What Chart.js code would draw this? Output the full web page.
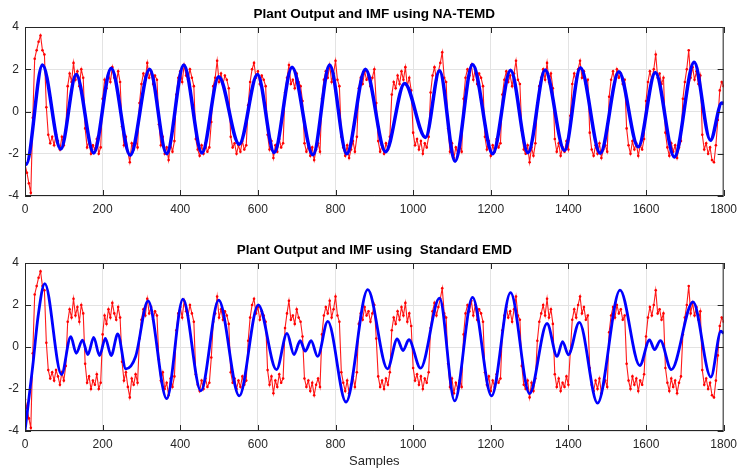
<!DOCTYPE html>
<html>
<head>
<meta charset="utf-8">
<script src="https://cdn.jsdelivr.net/npm/chart.js@4.4.1/dist/chart.umd.min.js"></script>
<style>
body { margin: 0; background: #fff; width: 743px; height: 469px; overflow: hidden; }
.box { position: absolute; left: 0; }
</style>
</head>
<body>
<div class="box" style="top:0px"><canvas id="top" width="743" height="222"></canvas></div>
<div class="box" style="top:236px"><canvas id="bottom" width="743" height="233"></canvas></div>
<script>
// plant output, one value every 5 samples (0..1800)
const sampleStep = 5;
const plantOutput = [
  -2.5,-2.9,-3.4,-3.85,-0.3,2.5,2.9,3.3,3.6,2.9,2.7,0.2,-1.1,-1.5,-1.2,-1.6,-1.1,-1.4,-1.8,-1.2,
  -1.6,-0.9,1.2,1.8,1.4,2.3,1.5,1.9,1.2,2.0,1.6,-0.8,-1.7,-1.4,-2.0,-1.6,-1.8,-1.3,-2.0,-1.7,
  0.6,1.5,1.1,1.8,1.4,2.1,1.6,1.3,1.9,1.4,-0.7,-1.6,-1.2,-1.9,-2.4,-1.5,-1.8,-1.3,-1.7,0.4,
  1.3,1.8,1.5,2.3,1.6,1.9,1.3,1.7,1.5,-0.6,-1.6,-1.2,-2.0,-1.7,-2.3,-1.5,-1.9,-1.4,0.8,1.6,
  1.9,1.4,2.2,1.7,1.5,2.0,1.6,1.2,-1.3,-1.8,-2.1,-1.6,-2.0,-1.5,-1.9,-1.7,-0.5,1.2,1.6,2.4,
  1.4,1.8,1.3,1.7,1.5,1.1,-1.2,-1.7,-1.5,-2.0,-1.6,-1.9,-1.4,-1.8,-1.6,0.3,1.4,2.0,2.3,1.6,
  1.9,1.3,1.7,1.5,1.2,-1.1,-1.8,-1.4,-2.2,-1.6,-1.9,-1.3,-1.7,-1.5,0.9,1.6,2.2,1.3,1.5,1.1,
  1.8,1.4,1.2,0.5,-1.5,-1.9,-1.6,-2.1,-1.7,-2.3,-1.8,-1.5,-1.9,0.6,1.5,1.9,1.6,2.2,1.4,1.8,
  2.4,1.5,1.2,-1.2,-1.7,-2.1,-1.6,-2.2,-1.8,-1.4,-1.9,-1.2,1.1,1.6,1.3,1.9,1.5,1.7,1.2,1.6,
  2.0,0.4,-1.4,-1.9,-1.6,-2.0,-1.5,-1.8,-1.2,0.8,1.4,1.1,1.7,1.3,1.9,1.5,2.1,1.2,1.6,1.0,
  -1.0,-1.6,-1.3,-1.8,-1.4,-2.0,-1.5,-1.7,-1.2,0.9,1.7,2.1,1.5,1.9,2.3,2.8,1.6,1.4,-0.8,-1.9,
  -1.5,-2.2,-1.7,-2.0,-1.6,-1.9,0.6,1.6,2.0,1.7,2.2,1.5,2.0,1.3,1.8,1.6,1.2,-1.2,-1.8,-1.4,
  -2.1,-1.6,-1.9,-1.3,-1.7,-1.5,0.8,1.5,1.9,1.4,1.7,1.2,1.8,2.4,1.5,1.3,-0.9,-1.8,-2.0,-1.6,
  -2.4,-1.7,-2.1,-1.5,0.3,1.2,1.6,2.0,1.5,2.3,1.4,1.8,1.1,-1.3,-1.9,-1.5,-2.1,-1.7,-1.9,-1.4,
  -1.8,-0.2,1.3,1.8,1.4,2.0,2.4,1.6,1.9,1.3,1.5,-1.0,-1.8,-2.1,-1.6,-2.0,-1.5,-2.2,-1.8,-1.6,
  -1.9,0.7,1.5,1.9,1.4,2.0,1.6,1.8,1.3,1.5,-0.8,-1.6,-2.0,-1.4,-1.8,-1.5,-2.1,-1.6,-1.8,-1.3,
  0.5,1.4,1.9,1.5,2.0,2.7,1.6,1.8,1.3,1.6,-1.0,-1.7,-2.1,-1.5,-1.9,-1.6,-2.2,-1.7,-1.4,0.6,
  1.4,2.0,2.9,1.6,2.1,1.5,1.9,1.3,1.7,-1.1,-1.8,-1.5,-2.0,-1.7,-2.3,-2.4,-1.6,-0.4,1.0,1.4,
  1.2
];

// IMF from NA-TEMD (turning points)
const temdX = [0,3,45,92,132,177,222,271,321,365,409,456,499,552,599,642,688,742,785,829,877,929,978,1032,1068,1108,1153,1205,1251,1296,1340,1390,1431,1482,1530,1580,1624,1673,1724,1766,1795,1800];
const temdY = [-2.45,-2.5,2.2,-1.78,1.75,-1.96,2.05,-2.07,2.0,-2.0,2.2,-1.96,1.65,-1.55,1.75,-1.94,2.1,-2.05,2.2,-2.0,2.0,-1.9,1.33,-1.23,1.93,-2.35,2.23,-2.0,1.95,-1.95,1.96,-1.85,2.07,-1.98,1.88,-1.67,1.85,-2.15,2.33,-1.36,0.4,0.38];

// IMF from standard EMD
const emdX = [0,20,34,51,94,118,132,148,162,177,192,207,222,239,260,285,317,365,407,453,499,552,601,648,675,693,709,722,737,754,780,827,883,934,959,974,989,1019,1068,1107,1153,1202,1251,1300,1345,1371,1385,1400,1428,1475,1533,1584,1609,1622,1637,1665,1721,1767,1793,1800];
const emdY = [-4,-0.9,1.5,3.02,-1.31,0.49,-0.3,0.33,-0.36,0.46,-0.41,0.41,-0.41,0.62,-1.04,-0.45,2.2,-2.46,2.28,-2.09,2.23,-2.33,2.01,-1.08,0.65,-0.36,0.3,-0.2,0.3,-0.45,1.22,-2.62,2.73,-1.04,0.38,-0.17,0.35,-1.01,2.33,-2.57,2.36,-2.33,2.59,-2.22,1.12,-0.45,0.26,-0.37,1.17,-2.67,2.71,-0.88,0.34,-0.12,0.3,-1.08,2.15,-1.43,0.75,0.65];

const xTicks = [0,200,400,600,800,1000,1200,1400,1600,1800];
const yTicks = [-4,-2,0,2,4];

const FONT = 'Liberation Sans, Arial, sans-serif';

function pts(xs, ys){
  let out = [];
  for(let i = 0; i < ys.length; i++) out.push({x: xs[i], y: ys[i]});
  return out;
}
function plantPts(){
  let out = [];
  for(let i = 0; i < plantOutput.length; i++) out.push({x: i*sampleStep, y: plantOutput[i]});
  return out;
}

// matlab style box + inward ticks
const matlabBox = {
  id: 'matlabBox',
  afterDraw(chart){
    const {ctx, chartArea: a, scales} = chart;
    ctx.save();
    ctx.strokeStyle = '#262626';
    ctx.lineWidth = 1;
    ctx.strokeRect(a.left + 0.5, a.top + 0.5, a.right - a.left - 1, a.bottom - a.top - 1);
    ctx.beginPath();
    xTicks.forEach(v => {
      let p = Math.round(scales.x.getPixelForValue(v)) + 0.5;
      ctx.moveTo(p, a.top); ctx.lineTo(p, a.top + 6);
      ctx.moveTo(p, a.bottom); ctx.lineTo(p, a.bottom - 6);
    });
    yTicks.forEach(v => {
      let p = Math.round(scales.y.getPixelForValue(v)) + 0.5;
      ctx.moveTo(a.left, p); ctx.lineTo(a.left + 6, p);
      ctx.moveTo(a.right, p); ctx.lineTo(a.right - 6, p);
    });
    ctx.stroke();
    ctx.restore();
  }
};

function makePlot(id, title, imfX, imfY, imfWidth, xHeight, showXTitle){
  const data = {
    datasets: [{
      data: pts(imfX, imfY),
      borderColor: '#0000ff',
      borderWidth: imfWidth,
      pointRadius: 0,
      cubicInterpolationMode: 'monotone'
    },{
      data: plantPts(),
      borderColor: '#ff1a1a',
      backgroundColor: '#ff0000',
      borderWidth: 1.1,
      pointRadius: 1.3,
      pointBorderWidth: 0
    }]
  };
  const config = {
    type: 'line',
    data: data,
    options: {
      responsive: false,
      animation: false,
      devicePixelRatio: 1,
      layout: { padding: { left: 0, right: 14, top: 0, bottom: 0 } },
      plugins: {
        legend: { display: false },
        tooltip: { enabled: false },
        title: {
          display: true,
          text: title,
          fullSize: false,
          color: '#000',
          font: { family: FONT, size: 13.5, weight: 'bold' },
          padding: { top: 6, bottom: 4.8 }
        }
      },
      scales: {
        x: {
          type: 'linear', min: 0, max: 1800,
          afterBuildTicks: s => { s.ticks = xTicks.map(v => ({value: v})); },
          afterFit: s => { s.height = xHeight; },
          grid: { color: '#e3e3e3', drawTicks: false },
          border: { display: false },
          ticks: { color: '#262626', padding: 6, maxRotation: 0, autoSkip: false,
                   callback: v => String(v),
                   font: { family: FONT, size: 12 } },
          title: { display: showXTitle, text: 'Samples', color: '#262626', padding: 0,
                   font: { family: FONT, size: 13 } }
        },
        y: {
          min: -4, max: 4,
          afterBuildTicks: s => { s.ticks = yTicks.map(v => ({value: v})); },
          afterFit: s => { s.width = 25; },
          grid: { color: '#e3e3e3', drawTicks: false },
          border: { display: false },
          ticks: { color: '#262626', padding: 6,
                   font: { family: FONT, size: 12 } }
        }
      }
    },
    plugins: [matlabBox]
  };
  let c = document.getElementById(id).getContext("2d");
  new Chart(c, config);
}

makePlot('top', 'Plant Output and IMF using NA-TEMD', temdX, temdY, 3.5, 26, false);
makePlot('bottom', 'Plant Output and IMF using  Standard EMD', emdX, emdY, 2.8, 38, true);
</script>
</body>
</html>
